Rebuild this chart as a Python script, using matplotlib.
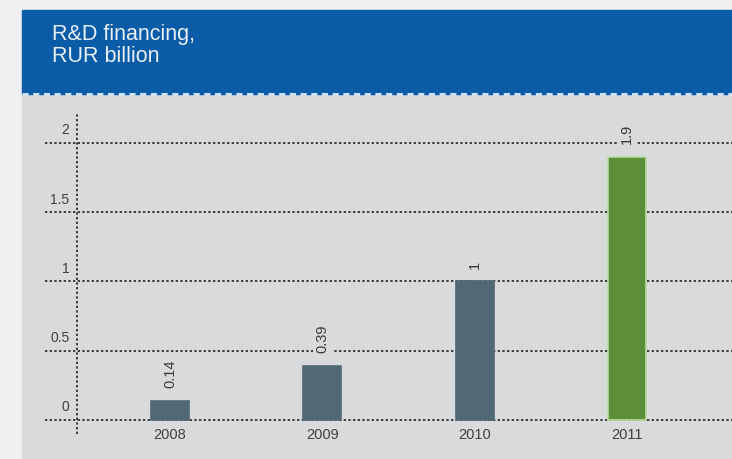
import matplotlib.pyplot as plt
from matplotlib.patches import Rectangle

plt.rcParams['font.family'] = ['Liberation Sans Narrow', 'Liberation Sans', 'DejaVu Sans']

years = ['2008', '2009', '2010', '2011']
values = [0.14, 0.39, 1.0, 1.9]
value_labels = ['0.14', '0.39', '1', '1.9']
bar_colors = ['#536875', '#536875', '#536875', '#5d8f3b']
edge_colors = ['#536875', '#536875', '#536875', '#b9dca0']
yticks = [0, 0.5, 1, 1.5, 2]
ytick_labels = ['0', '0.5', '1', '1.5', '2']

W, H = 732, 459
panel = '#d8dadb'
fig = plt.figure(figsize=(W / 100, H / 100), dpi=100)
fig.patch.set_facecolor('#eef0f1')

# panel and header boxes in pixel units
def px(x0, y0, x1, y1):
    return (x0 / W, 1 - y1 / H), (x1 - x0) / W, (y1 - y0) / H

xy, w, h = px(22, 94, 732, 459)
fig.patches.append(Rectangle(xy, w, h, transform=fig.transFigure, color=panel, zorder=0))
xy, w, h = px(22, 10, 732, 94)
fig.patches.append(Rectangle(xy, w, h, transform=fig.transFigure, color='#0b5ca6', zorder=1))
fig.add_artist(plt.Line2D([22 / W, 1], [1 - 94 / H] * 2, transform=fig.transFigure,
                          color='#cfe2f2', lw=2.2, ls=(0, (2, 1.5)), zorder=2))

fig.text(52 / W, 1 - 24 / H, 'R&D financing,\nRUR billion', color='#e9eff6',
         fontsize=15.5, va='top', ha='left', linespacing=1.05, zorder=3)

ax = fig.add_axes([45 / W, 1 - 450 / H, (732 - 45) / W, 350 / H])
ax.set_zorder(5)
ax.patch.set_alpha(0)
for s in ax.spines.values():
    s.set_visible(False)

ax.set_xlim(-0.821, 3.69)
ax.set_ylim(-0.217, 2.31)
ax.set_xticks([])
ax.set_yticks([])

for t in yticks:
    ax.axhline(t, color='#3c3c3c', lw=1.4, ls=(0, (1.2, 1.2)), zorder=1)
ax.plot([-0.611, -0.611], [-0.1, 2.22], color='#3c3c3c', lw=1.4, ls=(0, (1.2, 1.2)), zorder=1)

for t, lab in zip(yticks, ytick_labels):
    ax.text(-0.66, t + 0.04, lab, ha='right', va='bottom', fontsize=10, color='#404040')

xs = range(len(years))
ax.bar(xs, values, width=0.25, color=bar_colors, edgecolor=edge_colors, linewidth=1.2, zorder=3)

for x, v, lab in zip(xs, values, value_labels):
    ax.annotate(lab, (x, v), xytext=(0, 9), textcoords='offset points', rotation=90,
                ha='center', va='bottom', fontsize=10.5, color='#3a3a3a', zorder=4,
                bbox=dict(boxstyle='square,pad=0.15', fc=panel, ec='none'))

for x, lab in zip(xs, years):
    ax.text(x, -0.055, lab, ha='center', va='top', fontsize=10.5, color='#404040')

plt.savefig('out.png', dpi=100, facecolor=fig.get_facecolor())
